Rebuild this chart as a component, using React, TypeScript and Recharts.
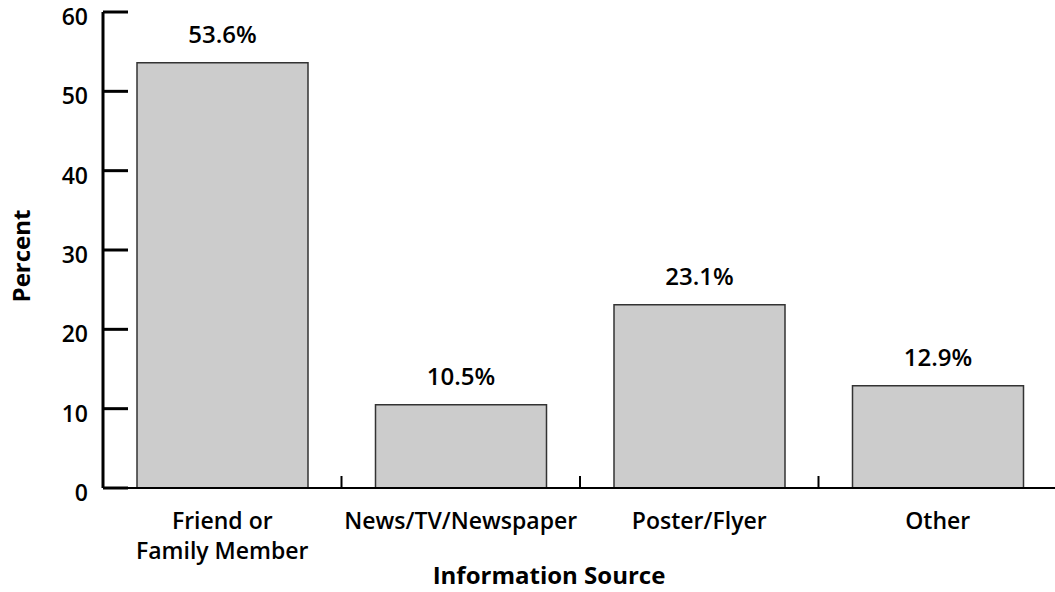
import { BarChart, Bar, XAxis, YAxis, LabelList } from 'recharts';

const sources = ['Friend or\nFamily Member', 'News/TV/Newspaper', 'Poster/Flyer', 'Other'];
const percents = [53.6, 10.5, 23.1, 12.9];
const yTicks = [0, 10, 20, 30, 40, 50, 60];

const data = sources.map((source, i) => ({ source, percent: percents[i] }));

const W = 1060;
const H = 592;
const M = { top: 12, right: 3, bottom: 0, left: 0 };
const Y_W = 103;
const X_H = 104;
const band = (W - M.left - M.right - Y_W) / sources.length;

const font = '"Open Sans", sans-serif';

function YTick(props: any) {
  const { x, y, payload } = props;
  return (
    <g>
      <line x1={x + 15} x2={x + 40} y1={y} y2={y} stroke="#000" strokeWidth={3} />
      <text x={x} y={y} dy={13} textAnchor="end" fontFamily={font} fontWeight={600} fontSize={23} fill="#000">
        {payload.value}
      </text>
    </g>
  );
}

function XTick(props: any) {
  const { x, y, payload, index } = props;
  const lines = String(payload.value).split('\n');
  return (
    <g>
      {index > 0 && (
        <line x1={x - band / 2} x2={x - band / 2} y1={y} y2={y - 12} stroke="#000" strokeWidth={2} />
      )}
      <text x={x} y={y} textAnchor="middle" fontFamily={font} fontWeight={600} fontSize={23} fill="#000">
        {lines.map((l, i) => (
          <tspan key={i} x={x} dy={i === 0 ? 41 : 30}>
            {l}
          </tspan>
        ))}
      </text>
    </g>
  );
}

function BarValue(props: any) {
  const { x, y, width, value } = props;
  return (
    <text
      x={x + width / 2}
      y={y - 20}
      textAnchor="middle"
      fontFamily={font}
      fontWeight={600}
      fontSize={24}
      fill="#000"
    >
      {`${value}%`}
    </text>
  );
}

export default function App() {
  return (
    <div style={{ position: 'absolute', left: 0, top: 0, background: '#fff' }}>
      <BarChart width={W} height={H} data={data} margin={M} barSize={171}>
        <XAxis
          dataKey="source"
          height={X_H}
          interval={0}
          tickSize={0}
          tickMargin={0}
          tickLine={false}
          axisLine={{ stroke: '#000', strokeWidth: 2 }}
          tick={<XTick />}
          label={{
            content: (p: any) => {
              const vb = p.viewBox;
              return (
                <text
                  x={vb.x + vb.width / 2 - 31}
                  y={vb.y + 96}
                  textAnchor="middle"
                  fontFamily={font}
                  fontWeight={700}
                  fontSize={24}
                  fill="#000"
                >
                  Information Source
                </text>
              );
            },
          }}
        />
        <YAxis
          width={Y_W}
          domain={[0, 60]}
          ticks={yTicks}
          interval={0}
          tickSize={0}
          tickMargin={15}
          tickLine={false}
          axisLine={{ stroke: '#000', strokeWidth: 3 }}
          tick={<YTick />}
          label={{
            content: (p: any) => {
              const vb = p.viewBox;
              const cx = vb.x + 20;
              const cy = vb.y + vb.height / 2 + 6;
              return (
                <text
                  x={cx}
                  y={cy}
                  transform={`rotate(-90, ${cx}, ${cy})`}
                  textAnchor="middle"
                  dominantBaseline="central"
                  fontFamily={font}
                  fontWeight={700}
                  fontSize={24}
                  fill="#000"
                >
                  Percent
                </text>
              );
            },
          }}
        />
        <Bar dataKey="percent" fill="#cccccc" stroke="#333" strokeWidth={1.5} isAnimationActive={false}>
          <LabelList dataKey="percent" content={<BarValue />} />
        </Bar>
      </BarChart>
    </div>
  );
}
